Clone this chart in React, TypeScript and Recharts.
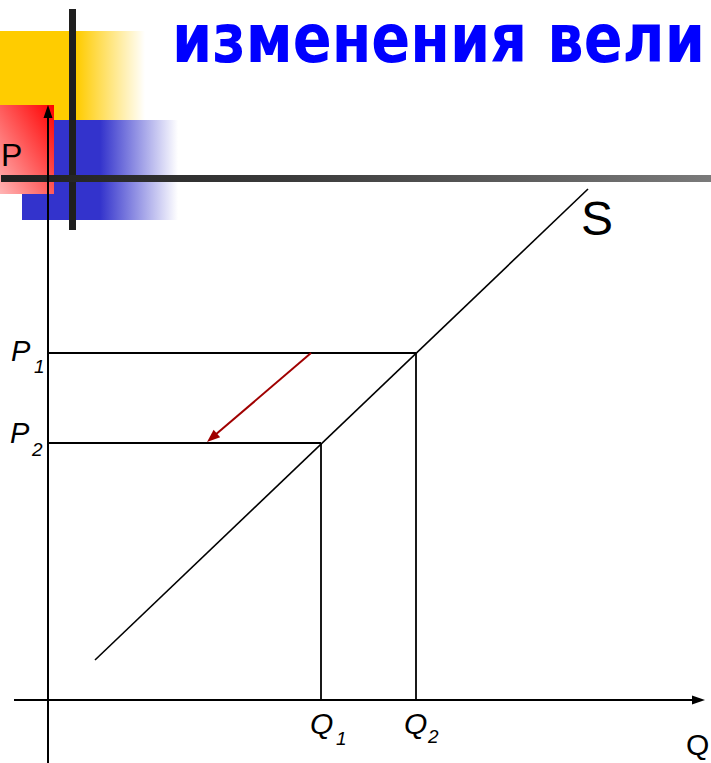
import React from "react";
import { ComposedChart, Line, XAxis, YAxis, ReferenceLine, ReferenceDot } from "recharts";

// ---- data (chart units: quantity Q, price P) ----
const supplyData = [
  { q: 4.7, p: 4.0 },
  { q: 54.0, p: 51.1 },
];
const priceLabels = ["P1", "P2"];
const priceValues = [34.7, 25.7]; // P1, P2
const quantityLabels = ["Q1", "Q2"];
const quantityValues = [27.3, 36.8]; // Q1, Q2
const arrowFrom = { q: 26.3, p: 34.7 };
const arrowTo = { q: 15.9, p: 25.8 };
const xDomain = [-4.8, 66.3];
const yDomain = [-6.3, 70];
const xAxisStart = -3.4;
const xAxisEnd = 65.7;
const yAxisTop = 59.5;
const titleText = "изменения вели";

const W = 711;
const H = 763;
const FONT = "'Liberation Sans', Arial, sans-serif";

const segShape =
  (color: string, width: number, head?: { len: number; half: number }) =>
  (props: any) => {
    const { x1, y1, x2, y2 } = props;
    if (x1 == null || x2 == null) return <g />;
    let poly = null;
    let ex = x2;
    let ey = y2;
    if (head) {
      const dx = x2 - x1;
      const dy = y2 - y1;
      const L = Math.sqrt(dx * dx + dy * dy) || 1;
      const ux = dx / L;
      const uy = dy / L;
      const bx = x2 - ux * head.len;
      const by = y2 - uy * head.len;
      const px = -uy * head.half;
      const py = ux * head.half;
      poly = (
        <polygon
          points={`${x2},${y2} ${bx + px},${by + py} ${bx - px},${by - py}`}
          fill={color}
        />
      );
      ex = x2 - ux * (head.len - 2);
      ey = y2 - uy * (head.len - 2);
    }
    return (
      <g>
        <line x1={x1} y1={y1} x2={ex} y2={ey} stroke={color} strokeWidth={width} />
        {poly}
      </g>
    );
  };

const subLabel =
  (main: string, sub: string, dx: number, dy: number, sdx: number, sdy: number, size: number, subSize: number, italic: boolean) =>
  (props: any) => {
    const { cx, cy } = props;
    return (
      <g>
        <text x={cx + dx} y={cy + dy} fontFamily={FONT} fontSize={size} fontStyle={italic ? "italic" : "normal"} fill="#000">
          {main}
        </text>
        {sub ? (
          <text x={cx + sdx} y={cy + sdy} fontFamily={FONT} fontSize={subSize} fontStyle={italic ? "italic" : "normal"} fill="#000">
            {sub}
          </text>
        ) : null}
      </g>
    );
  };

export default function App() {
  const abs = (s: React.CSSProperties): React.CSSProperties => ({ position: "absolute", ...s });
  return (
    <div style={abs({ left: 0, top: 0, width: W, height: H, overflow: "hidden", background: "#fff" })}>
      {/* decorative slide squares */}
      <div
        style={abs({
          left: 0,
          top: 31,
          width: 145,
          height: 89,
          background: "linear-gradient(to right, #ffcc00 0%, #ffcc00 53%, rgba(255,204,0,0) 100%)",
        })}
      />
      <div
        style={abs({
          left: 22,
          top: 120,
          width: 156,
          height: 100,
          background: "linear-gradient(to right, #3333cc 0%, #3333cc 50%, rgba(51,51,204,0) 100%)",
        })}
      />
      <div
        style={abs({
          left: 0,
          top: 105,
          width: 54,
          height: 89,
          background: "linear-gradient(to bottom left, #ff0000 0%, #ffb4b4 100%)",
        })}
      />
      <div style={abs({ left: 69, top: 9, width: 7, height: 221, background: "#1f1f1f" })} />
      <div
        style={abs({
          left: 1,
          top: 175,
          width: 710,
          height: 7,
          background: "linear-gradient(to right, #1f1f1f 0%, #3a3a3a 40%, #7a7a7a 100%)",
        })}
      />
      <svg width={W} height={90} style={abs({ left: 0, top: 0 })}>
        <text
          x={0}
          y={0}
          transform="translate(172,62) scale(1,1.19)"
          fontFamily="'DejaVu Sans', Verdana, sans-serif"
          fontWeight="bold"
          fontSize={57}
          fill="#0000ff"
          textLength={533}
          lengthAdjust="spacingAndGlyphs"
        >
          {titleText}
        </text>
      </svg>
      <div style={abs({ left: 0, top: 0 })}>
        <ComposedChart width={W} height={H} margin={{ top: 0, right: 0, bottom: 0, left: 0 }}>
          <XAxis type="number" dataKey="q" domain={xDomain} allowDataOverflow hide />
          <YAxis type="number" dataKey="p" domain={yDomain} allowDataOverflow hide />
          {/* axes */}
          <ReferenceLine
            segment={[{ x: 0, y: yDomain[0] }, { x: 0, y: yAxisTop }]}
            ifOverflow="visible"
            shape={segShape("#000", 2, { len: 13, half: 4.5 })}
          />
          <ReferenceLine
            segment={[{ x: xAxisStart, y: 0 }, { x: xAxisEnd, y: 0 }]}
            ifOverflow="visible"
            shape={segShape("#000", 2, { len: 13, half: 4.5 })}
          />
          {/* price levels */}
          <ReferenceLine
            segment={[{ x: 0, y: priceValues[0] }, { x: quantityValues[1], y: priceValues[0] }]}
            ifOverflow="visible"
            shape={segShape("#000", 1.8)}
          />
          <ReferenceLine
            segment={[{ x: 0, y: priceValues[1] }, { x: quantityValues[0], y: priceValues[1] }]}
            ifOverflow="visible"
            shape={segShape("#000", 1.8)}
          />
          {/* quantity levels */}
          <ReferenceLine
            segment={[{ x: quantityValues[0], y: priceValues[1] }, { x: quantityValues[0], y: 0 }]}
            ifOverflow="visible"
            shape={segShape("#000", 1.8)}
          />
          <ReferenceLine
            segment={[{ x: quantityValues[1], y: priceValues[0] }, { x: quantityValues[1], y: 0 }]}
            ifOverflow="visible"
            shape={segShape("#000", 1.8)}
          />
          {/* price change arrow */}
          <ReferenceLine
            segment={[{ x: arrowFrom.q, y: arrowFrom.p }, { x: arrowTo.q, y: arrowTo.p }]}
            ifOverflow="visible"
            shape={segShape("#a00000", 2, { len: 13, half: 5 })}
          />
          {/* supply curve */}
          <Line
            data={supplyData}
            dataKey="p"
            type="linear"
            stroke="#000"
            strokeWidth={1.6}
            dot={false}
            activeDot={false}
            isAnimationActive={false}
          />
          {/* labels */}
          <ReferenceDot
            x={0}
            y={priceValues[0]}
            r={0}
            ifOverflow="visible"
            shape={subLabel(priceLabels[0][0], priceLabels[0].slice(1), -37, 8, -14, 20, 29, 19, true)}
          />
          <ReferenceDot
            x={0}
            y={priceValues[1]}
            r={0}
            ifOverflow="visible"
            shape={subLabel(priceLabels[1][0], priceLabels[1].slice(1), -38, 0, -16, 13, 29, 19, true)}
          />
          <ReferenceDot
            x={quantityValues[0]}
            y={0}
            r={0}
            ifOverflow="visible"
            shape={subLabel(quantityLabels[0][0], quantityLabels[0].slice(1), -11, 34, 15, 45, 30, 19, true)}
          />
          <ReferenceDot
            x={quantityValues[1]}
            y={0}
            r={0}
            ifOverflow="visible"
            shape={subLabel(quantityLabels[1][0], quantityLabels[1].slice(1), -12, 34, 12, 43, 30, 19, true)}
          />
          <ReferenceDot
            x={xAxisEnd}
            y={0}
            r={0}
            ifOverflow="visible"
            shape={subLabel("Q", "", -19, 55, 0, 0, 30, 19, false)}
          />
          <ReferenceDot
            x={0}
            y={yAxisTop}
            r={0}
            ifOverflow="visible"
            shape={subLabel("P", "", -47, 61, 0, 0, 32, 19, false)}
          />
          <ReferenceDot
            x={supplyData[1].q}
            y={supplyData[1].p}
            r={0}
            ifOverflow="visible"
            shape={subLabel("S", "", -7, 46, 0, 0, 48, 19, false)}
          />
        </ComposedChart>
      </div>
    </div>
  );
}
